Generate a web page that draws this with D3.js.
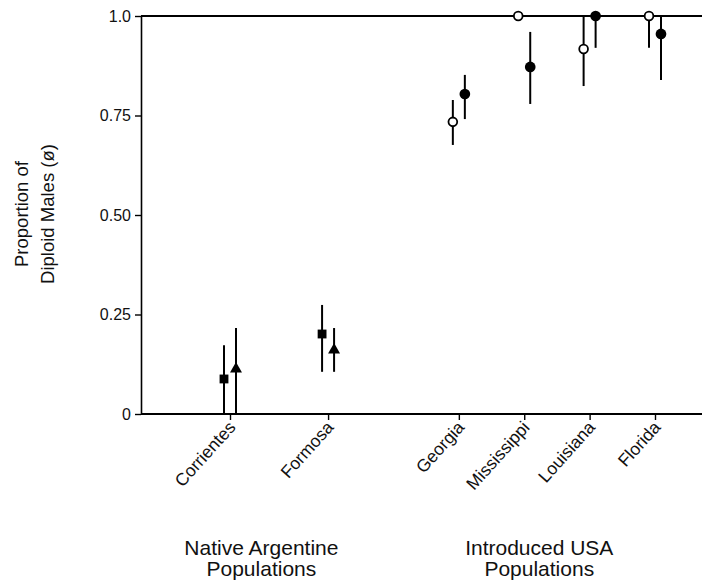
<!DOCTYPE html>
<html>
<head>
<meta charset="utf-8">
<script src="https://cdn.jsdelivr.net/npm/d3@7"></script>
<style>
  body { margin: 0; background: #fff; }
  svg { font-family: "Liberation Sans", Arial, Helvetica, sans-serif; }
</style>
</head>
<body>
<script>
// sites along the x axis, and their slot on the axis (gap between the two regions)
var sites = ["Corrientes", "Formosa", "Georgia", "Mississippi", "Louisiana", "Florida"];
var slots = [0, 1.5, 3.5, 4.5, 5.5, 6.5];

// first marker per site (square for Argentina, open circle for USA)
var firstSymbol = ["square", "square", "open", "open", "open", "open"];
var firstVal = [0.088, 0.201, 0.734, 1.0, 0.917, 1.0];
var firstLo  = [0, 0.106, 0.676, 1.0, 0.824, 0.92];
var firstHi  = [0.173, 0.274, 0.789, 1.0, 1.0, 1.0];

// second marker per site (triangle for Argentina, filled circle for USA)
var secondSymbol = ["triangle", "triangle", "filled", "filled", "filled", "filled"];
var secondVal = [0.113, 0.161, 0.804, 0.872, 1.0, 0.955];
var secondLo  = [0, 0.106, 0.741, 0.779, 0.92, 0.839];
var secondHi  = [0.216, 0.216, 0.852, 0.96, 1.0, 1.0];

var yTicks = [0, 0.25, 0.5, 0.75, 1.0];
var yTickLabels = ["0", "0.25", "0.50", "0.75", "1.0"];

var groupLines = [["Native Argentine", "Populations"], ["Introduced USA", "Populations"]];
var groupSlots = [0.48, 4.73];

var svgWidth = 702, svgHeight = 582;
var axisLeft = 141, axisRight = 702;

var svg = d3.select("body").append("svg")
  .attr("width", svgWidth)
  .attr("height", svgHeight);

var x = d3.scaleLinear().domain([0, 6.5]).range([230, 655]);
var y = d3.scaleLinear().domain([0, 1]).range([414, 16]);

// y axis
var leftAxis = d3.axisLeft(y)
  .tickValues(yTicks)
  .tickFormat((d, i) => yTickLabels[i])
  .tickSize(6)
  .tickSizeOuter(0)
  .tickPadding(4);

var gy = svg.append("g")
  .attr("transform", `translate(${axisLeft},0)`)
  .call(leftAxis);
gy.select(".domain").attr("stroke-width", 1.6);
gy.selectAll(".tick line").attr("stroke-width", 1.4);
gy.selectAll(".tick text").style("font-size", "16px").attr("fill", "#111");

// top reference line at 1.0 and baseline
svg.append("line")
  .attr("x1", axisLeft).attr("x2", axisRight)
  .attr("y1", y(1)).attr("y2", y(1))
  .attr("stroke", "#000").attr("stroke-width", 2);

svg.append("line")
  .attr("x1", axisLeft).attr("x2", axisRight)
  .attr("y1", y(0)).attr("y2", y(0))
  .attr("stroke", "#000").attr("stroke-width", 1.8);

// x axis ticks + rotated labels
var bottomAxis = d3.axisBottom(x)
  .tickValues(slots)
  .tickFormat((d, i) => sites[i])
  .tickSize(6)
  .tickSizeOuter(0);

var gx = svg.append("g")
  .attr("transform", `translate(0,${y(0)})`)
  .call(bottomAxis);
gx.select(".domain").remove();
gx.selectAll(".tick line").attr("stroke-width", 1.4);
gx.selectAll(".tick text")
  .style("font-size", "17.5px")
  .attr("fill", "#111")
  .attr("text-anchor", "end")
  .attr("dy", null)
  .attr("y", null)
  .attr("transform", "translate(6,14) rotate(-48)");

// y axis title
var yTitle = svg.append("text")
  .attr("transform", "translate(34,214) rotate(-90)")
  .attr("text-anchor", "middle")
  .style("font-size", "18.5px")
  .attr("fill", "#111");
yTitle.append("tspan").attr("x", 0).attr("dy", "-0.35em").text("Proportion of");
yTitle.append("tspan").attr("x", 0).attr("dy", 26).text("Diploid Males (ø)");

// group titles
groupLines.forEach(function(lines, gi) {
  var t = svg.append("text")
    .attr("text-anchor", "middle")
    .attr("x", x(groupSlots[gi]))
    .attr("y", 555)
    .style("font-size", "21px")
    .attr("fill", "#111");
  t.append("tspan").attr("x", x(groupSlots[gi])).text(lines[0]);
  t.append("tspan").attr("x", x(groupSlots[gi])).attr("dy", 21).text(lines[1]);
});

// build the point table from the arrays
var offset = 6;
var points = [];
sites.forEach(function(s, i) {
  points.push({ slot: slots[i], dx: -offset, sym: firstSymbol[i], v: firstVal[i], lo: firstLo[i], hi: firstHi[i] });
  points.push({ slot: slots[i], dx: offset, sym: secondSymbol[i], v: secondVal[i], lo: secondLo[i], hi: secondHi[i] });
});

var marks = svg.append("g");

marks.selectAll(".err")
  .data(points)
  .enter()
  .append("line")
  .attr("class", "err")
  .attr("x1", d => x(d.slot) + d.dx)
  .attr("x2", d => x(d.slot) + d.dx)
  .attr("y1", d => y(d.lo))
  .attr("y2", d => y(d.hi))
  .attr("stroke", "#000")
  .attr("stroke-width", 2);

var symbolShape = {
  square: d3.symbol().type(d3.symbolSquare).size(78),
  triangle: d3.symbol().type(d3.symbolTriangle).size(62),
  open: d3.symbol().type(d3.symbolCircle).size(60),
  filled: d3.symbol().type(d3.symbolCircle).size(90)
};

marks.selectAll(".pt")
  .data(points)
  .enter()
  .append("path")
  .attr("class", "pt")
  .attr("d", d => symbolShape[d.sym]())
  .attr("transform", d => `translate(${x(d.slot) + d.dx},${y(d.v)})`)
  .attr("fill", d => d.sym == "open" ? "#fff" : "#000")
  .attr("stroke", "#000")
  .attr("stroke-width", d => d.sym == "open" ? 1.8 : 0);
</script>
</body>
</html>
